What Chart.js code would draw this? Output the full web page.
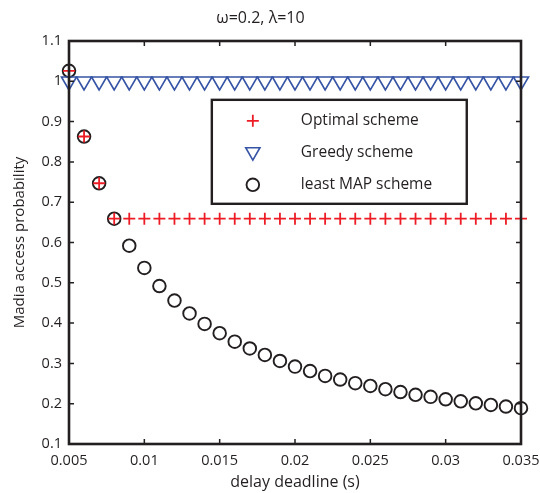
<!DOCTYPE html>
<html>
<head>
<meta charset="utf-8">
<script src="https://cdn.jsdelivr.net/npm/chart.js@4"></script>
<style>
html,body{margin:0;padding:0;background:#fff;}
#wrap{width:540px;height:493px;}
</style>
</head>
<body>
<div id="wrap"><canvas id="c" width="540" height="493"></canvas></div>
<script>
const deadlines = [0.005,0.006,0.007,0.008,0.009,0.010,0.011,0.012,0.013,0.014,0.015,0.016,0.017,0.018,0.019,0.020,0.021,0.022,0.023,0.024,0.025,0.026,0.027,0.028,0.029,0.030,0.031,0.032,0.033,0.034,0.035];
const optimalValues = [1.026,0.863,0.747,0.659,0.659,0.659,0.659,0.659,0.659,0.659,0.659,0.659,0.659,0.659,0.659,0.659,0.659,0.659,0.659,0.659,0.659,0.659,0.659,0.659,0.659,0.659,0.659,0.659,0.659,0.659,0.659];
const greedyValues = [1,1,1,1,1,1,1,1,1,1,1,1,1,1,1,1,1,1,1,1,1,1,1,1,1,1,1,1,1,1,1];
const leastMapValues = [1.026,0.863,0.747,0.659,0.592,0.537,0.492,0.456,0.424,0.398,0.375,0.354,0.337,0.321,0.306,0.292,0.281,0.269,0.260,0.251,0.244,0.236,0.229,0.222,0.217,0.211,0.206,0.201,0.197,0.193,0.189];
const seriesNames = ['Optimal scheme','Greedy scheme','least MAP scheme'];
const xTicks = [0.005,0.01,0.015,0.02,0.025,0.03,0.035];
const yTicks = [0.1,0.2,0.3,0.4,0.5,0.6,0.7,0.8,0.9,1,1.1];
const titleText = 'ω=0.2, λ=10';
const xTitle = 'delay deadline (s)';
const yTitle = 'Madia access probability';

const INK = '#231f20';
const FONT = "'Open Sans', 'Noto Sans', sans-serif";

function pts(vals){ return deadlines.map((x,i)=>({x:x,y:vals[i]})); }

const styles = [
  {pointStyle:'cross', radius:6, borderColor:'#ed1c24', borderWidth:1.8, rotation:0},
  {pointStyle:'triangle', radius:8.7, borderColor:'#3654a5', borderWidth:1.6, rotation:180},
  {pointStyle:'circle', radius:6.3, borderColor:INK, borderWidth:1.9, rotation:0}
];
const seriesValues = [optimalValues, greedyValues, leastMapValues];

const datasets = seriesValues.map((vals,i)=>({
  label: seriesNames[i],
  data: pts(vals),
  showLine:false,
  clip:false,
  pointStyle: styles[i].pointStyle,
  pointRadius: styles[i].radius,
  pointHoverRadius: styles[i].radius,
  pointRotation: styles[i].rotation,
  pointBorderColor: styles[i].borderColor,
  pointBackgroundColor: 'rgba(0,0,0,0)',
  pointBorderWidth: styles[i].borderWidth,
  borderColor: styles[i].borderColor,
  backgroundColor: 'rgba(0,0,0,0)'
}));

function drawMarker(ctx, st, x, y){
  if (window.Chart && Chart.helpers && Chart.helpers.drawPoint) {
    ctx.save();
    ctx.strokeStyle = st.borderColor;
    ctx.fillStyle = 'rgba(0,0,0,0)';
    ctx.lineWidth = st.borderWidth;
    Chart.helpers.drawPoint(ctx, {pointStyle: st.pointStyle, radius: st.radius, rotation: st.rotation, borderWidth: st.borderWidth}, x, y);
    ctx.restore();
  }
}

const framePlugin = {
  id:'frame',
  afterDatasetsDraw(chart){
    const ctx = chart.ctx, a = chart.chartArea;
    const xs = chart.scales.x, ys = chart.scales.y;
    ctx.save();
    ctx.strokeStyle = INK;
    ctx.lineWidth = 1.5;
    const tl = 5;
    ctx.beginPath();
    xTicks.forEach(v=>{
      const px = xs.getPixelForValue(v);
      ctx.moveTo(px, a.bottom); ctx.lineTo(px, a.bottom - tl);
      ctx.moveTo(px, a.top); ctx.lineTo(px, a.top + tl);
    });
    yTicks.forEach(v=>{
      const py = ys.getPixelForValue(v);
      ctx.moveTo(a.left, py); ctx.lineTo(a.left + tl, py);
      ctx.moveTo(a.right, py); ctx.lineTo(a.right - tl, py);
    });
    ctx.stroke();
    ctx.lineWidth = 2.6;
    ctx.strokeRect(a.left, a.top, a.right - a.left, a.bottom - a.top);

    // legend box
    const W = a.right - a.left, H = a.bottom - a.top;
    const bx = a.left + W*0.316, by = a.top + H*0.146, bw = W*0.564, bh = H*0.258;
    ctx.fillStyle = '#fff';
    ctx.fillRect(bx, by, bw, bh);
    ctx.lineWidth = 2.4;
    ctx.strokeRect(bx, by, bw, bh);
    ctx.font = "15.5px " + FONT;
    ctx.fillStyle = INK;
    ctx.textBaseline = 'middle';
    ctx.textAlign = 'left';
    const mx = bx + 41, tx = bx + 89;
    const rows = [by + 21, by + 53, by + 85];
    seriesNames.forEach((n,i)=>{
      const st = Object.assign({}, styles[i]);
      if (i===1) st.radius = 8.2;
      drawMarker(ctx, st, mx, rows[i] + (i===1 ? -1 : 0));
      ctx.fillText(n, tx, rows[i]);
    });
    ctx.restore();
  }
};

new Chart(document.getElementById('c'), {
  type:'scatter',
  data:{datasets},
  plugins:[framePlugin],
  options:{
    responsive:false,
    animation:false,
    devicePixelRatio:1,
    layout:{padding:{left:0,right:19,top:0,bottom:0}},
    plugins:{
      legend:{display:false},
      tooltip:{enabled:false},
      title:{display:true, text:titleText, color:INK, font:{family:FONT, size:16, weight:'normal'}, padding:{top:9, bottom:12.8}}
    },
    scales:{
      x:{
        type:'linear', min:0.005, max:0.035,
        afterBuildTicks(s){ s.ticks = xTicks.map(v=>({value:v})); },
        afterFit(s){ s.height = 49; s.paddingRight = 0; s.paddingLeft = 0; },
        grid:{display:false, drawTicks:false},
        border:{display:false},
        ticks:{color:INK, padding:8, font:{family:FONT, size:14.5}, maxRotation:0, autoSkip:false,
          callback:(v)=>String(+(+v).toFixed(3))},
        title:{display:true, text:xTitle, color:INK, font:{family:FONT, size:16}, padding:{top:0,bottom:1}}
      },
      y:{
        type:'linear', min:0.1, max:1.1,
        afterBuildTicks(s){ s.ticks = yTicks.map(v=>({value:v})); },
        afterFit(s){ s.width = 69; },
        grid:{display:false, drawTicks:false},
        border:{display:false},
        ticks:{color:INK, padding:7, font:{family:FONT, size:14.5}, autoSkip:false,
          callback:(v)=>String(+(+v).toFixed(1))},
        title:{display:true, text:yTitle, color:INK, font:{family:FONT, size:15}, padding:{top:11,bottom:0}}
      }
    }
  }
});
</script>
</body>
</html>
